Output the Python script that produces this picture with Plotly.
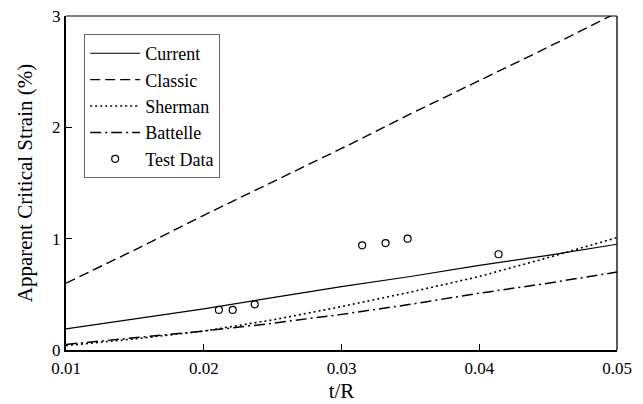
import plotly.graph_objects as go

t_R = [0.01, 0.015, 0.02, 0.025, 0.03, 0.035, 0.04, 0.045, 0.05]
current = [0.19, 0.28, 0.37, 0.47, 0.57, 0.66, 0.76, 0.85, 0.95]
classic = [0.60, 0.90, 1.21, 1.51, 1.81, 2.12, 2.42, 2.72, 3.03]
sherman = [0.04, 0.10, 0.17, 0.27, 0.39, 0.52, 0.66, 0.83, 1.01]
battelle = [0.05, 0.11, 0.17, 0.24, 0.32, 0.41, 0.51, 0.60, 0.70]

test_x = [0.0211, 0.0221, 0.0237, 0.0315, 0.0332, 0.0348, 0.0414]
test_y = [0.36, 0.36, 0.41, 0.94, 0.96, 1.00, 0.86]

x_ticks = [0.01, 0.02, 0.03, 0.04, 0.05]
x_tick_labels = ["0.01", "0.02", "0.03", "0.04", "0.05"]
y_ticks = [0, 1, 2, 3]

FONT = "Liberation Serif"

fig = go.Figure()
fig.add_trace(go.Scatter(x=t_R, y=current, mode="lines", name="Current",
                         line=dict(color="black", width=1.2)))
fig.add_trace(go.Scatter(x=t_R, y=classic, mode="lines", name="Classic",
                         line=dict(color="black", width=1.4, dash="10px,5px")))
fig.add_trace(go.Scatter(x=t_R, y=sherman, mode="lines", name="Sherman",
                         line=dict(color="black", width=1.6, dash="2px,3px")))
fig.add_trace(go.Scatter(x=t_R, y=battelle, mode="lines", name="Battelle",
                         line=dict(color="black", width=1.5, dash="11px,4px,2px,4px")))
fig.add_trace(go.Scatter(x=test_x, y=test_y, mode="markers", name="Test Data",
                         marker=dict(symbol="circle-open", size=7, color="black",
                                     line=dict(width=1.2, color="black"))))

fig.update_layout(
    width=635, height=396,
    margin=dict(l=58, r=26, t=8, b=54),
    paper_bgcolor="white", plot_bgcolor="white",
    font=dict(family=FONT, size=17, color="black"),
    showlegend=True,
    legend=dict(x=0.033, y=0.946, xanchor="left", yanchor="top",
                bordercolor="#666666", borderwidth=1, bgcolor="white",
                font=dict(size=18), tracegroupgap=0,
                itemwidth=50),
    xaxis=dict(range=[0.01, 0.05], tickvals=x_ticks, ticktext=x_tick_labels,
               ticks="inside", ticklen=6, tickcolor="black",
               showline=True, linewidth=2, linecolor="black",
               showgrid=False, zeroline=False, automargin=False,
               ticklabeloverflow="allow", ticklabelstandoff=2,
               tickfont=dict(size=17),
               title=dict(text="t/R", font=dict(size=21), standoff=6)),
    yaxis=dict(range=[0, 3], tickvals=y_ticks,
               ticks="inside", ticklen=6, tickcolor="black",
               showline=True, linewidth=2, linecolor="black",
               showgrid=False, zeroline=False, automargin=False,
               ticklabeloverflow="allow",
               tickfont=dict(size=17),
               title=dict(text="Apparent Critical Strain (%)", font=dict(size=21), standoff=14)),
    shapes=[
        dict(type="line", xref="paper", yref="paper", x0=0, x1=1, y0=1, y1=1,
             line=dict(color="black", width=1)),
        dict(type="line", xref="paper", yref="paper", x0=1, x1=1, y0=0, y1=1,
             line=dict(color="black", width=1.3)),
    ],
)

fig.write_html("out.html")
